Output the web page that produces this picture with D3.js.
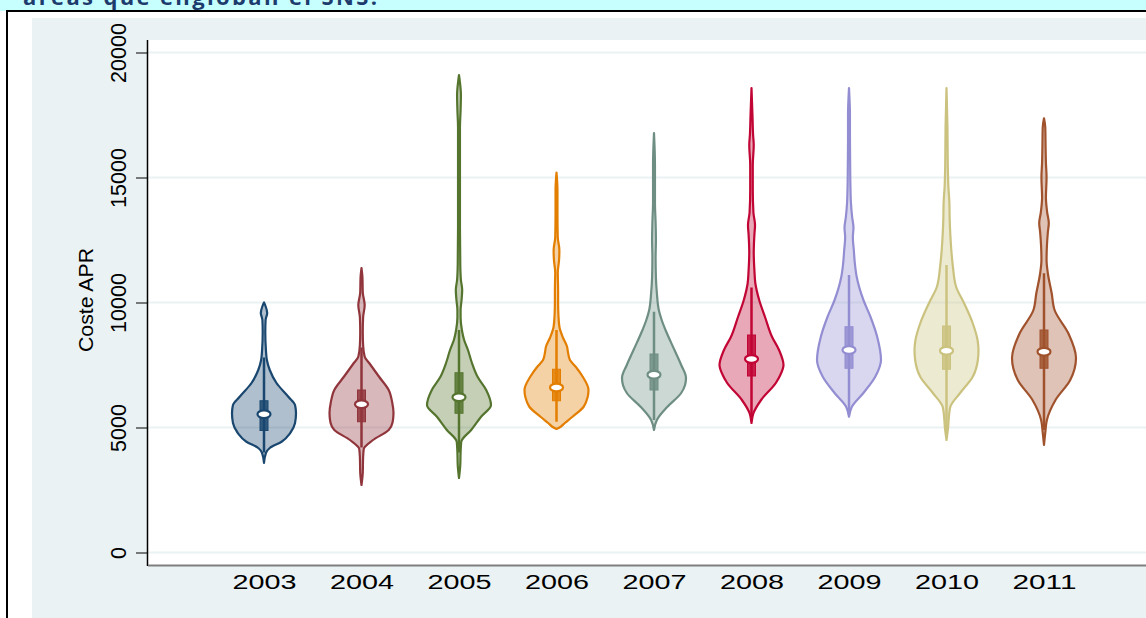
<!DOCTYPE html>
<html>
<head>
<meta charset="utf-8">
<script src="https://cdn.jsdelivr.net/npm/d3@7/dist/d3.min.js"></script>
<style>
  html, body { margin: 0; padding: 0; background: #ffffff; }
  svg { display: block; }
  text { font-family: "Liberation Sans", Arial, sans-serif; }
</style>
</head>
<body>
<svg id="chart" width="1146" height="618"></svg>
<script>
// Years shown on the x axis
const years = ["2003", "2004", "2005", "2006", "2007", "2008", "2009", "2010", "2011"];
const yTicks = [0, 5000, 10000, 15000, 20000];

// Stroke colours (Stata s2color palette)
const colors = ["#1a476f", "#90353b", "#55752f", "#e37e00", "#6e8e84",
                "#c10534", "#938dd2", "#cac27e", "#a0522d"];

// Kernel density profiles: [coste, relative density]
const dens2003 = [[3580,0],[3980,0.06],[4180,0.18],[4430,0.55],[4780,0.82],[5180,0.97],[5570,1.0],[5900,0.97],[6230,0.76],[6780,0.39],[7300,0.18],[7700,0.09],[8100,0.06],[8800,0.04],[9300,0.05],[9580,0.1],[9850,0.05],[10000,0]];
const dens2004 = [[2700,0],[3200,0.04],[3800,0.05],[4140,0.07],[4500,0.36],[4900,0.85],[5200,0.97],[5580,1.0],[6000,0.96],[6500,0.85],[7030,0.55],[7580,0.24],[7830,0.1],[8300,0.05],[8800,0.04],[9400,0.05],[9900,0.1],[10400,0.04],[11000,0.03],[11380,0]];
const dens2005 = [[2980,0],[3500,0.04],[4000,0.05],[4430,0.07],[4900,0.38],[5430,0.69],[5900,1.0],[6500,0.85],[7030,0.58],[7600,0.4],[8100,0.28],[8500,0.16],[8900,0.09],[9400,0.05],[9700,0.05],[10100,0.08],[10500,0.1],[10900,0.06],[11500,0.04],[13000,0.03],[15000,0.03],[17000,0.03],[17700,0.05],[18300,0.06],[18800,0.03],[19100,0]];
const dens2006 = [[4940,0],[4990,0.08],[5180,0.26],[5430,0.5],[5830,0.85],[6200,0.97],[6500,1.0],[7030,0.82],[7430,0.6],[7700,0.42],[8000,0.36],[8230,0.33],[8600,0.2],[9030,0.09],[9500,0.06],[10000,0.05],[10500,0.05],[11200,0.04],[11700,0.08],[12100,0.09],[12600,0.04],[13500,0.03],[14500,0.03],[15200,0]];
const dens2007 = [[4900,0],[5300,0.09],[5830,0.42],[6380,0.85],[6700,0.97],[6980,1.0],[7500,0.85],[8100,0.64],[8900,0.36],[9300,0.24],[9700,0.15],[10370,0.09],[11000,0.06],[11800,0.05],[12500,0.06],[13200,0.05],[14000,0.03],[15500,0.03],[16780,0]];
const dens2008 = [[5180,0],[5570,0.06],[6100,0.3],[6780,0.76],[7100,0.9],[7500,1.0],[8100,0.86],[8630,0.64],[9430,0.42],[10100,0.24],[10770,0.12],[11300,0.09],[12000,0.07],[12700,0.09],[13100,0.11],[13600,0.06],[14500,0.04],[15500,0.04],[16300,0.07],[16700,0.05],[17500,0.03],[18580,0]];
const dens2009 = [[5430,0],[5830,0.09],[6380,0.45],[7030,0.82],[7700,1.0],[8630,0.88],[9430,0.67],[10100,0.45],[11030,0.24],[11600,0.18],[12100,0.15],[12600,0.12],[13000,0.14],[13400,0.1],[14000,0.06],[15000,0.04],[16500,0.03],[17500,0.03],[18580,0]];
const dens2010 = [[4500,0],[5000,0.05],[5500,0.08],[5830,0.12],[6370,0.42],[7030,0.82],[7700,0.98],[8100,1.0],[8500,0.97],[9170,0.82],[9970,0.55],[10630,0.3],[11430,0.2],[12100,0.15],[12700,0.12],[13300,0.1],[14000,0.09],[14600,0.06],[15500,0.04],[17000,0.03],[18580,0]];
const dens2011 = [[4300,0],[4800,0.04],[5300,0.09],[6100,0.36],[6900,0.82],[7780,1.0],[8770,0.76],[9700,0.33],[10370,0.24],[11170,0.12],[11700,0.08],[12230,0.09],[12800,0.12],[13180,0.15],[13600,0.1],[14200,0.06],[15000,0.08],[15600,0.06],[16200,0.05],[17000,0.04],[17370,0]];
const densities = [dens2003, dens2004, dens2005, dens2006, dens2007, dens2008, dens2009, dens2010, dens2011];

// Box summaries per year
const q1      = [4880, 5230, 5570, 6070, 6500, 7060, 7370, 7330, 7370];
const medians = [5530, 5930, 6210, 6600, 7110, 7740, 8100, 8070, 8030];
const q3      = [6070, 6500, 7190, 7330, 7940, 8700, 9030, 9060, 8900];
const lowAdj  = [4000, 4200, 4000, 5230, 5300, 5400, 5600, 4800, 4900];
const highAdj = [7800, 8200, 8900, 8900, 9630, 10600, 11100, 11500, 11170];

const svg = d3.select("#chart");

// Page frame
svg.append("rect").attr("x", 0).attr("y", 0).attr("width", 1146).attr("height", 618).attr("fill", "#ffffff");
svg.append("rect").attr("x", 0).attr("y", 0).attr("width", 1146).attr("height", 11).attr("fill", "#c7ffff");
svg.append("text")
  .attr("x", 23).attr("y", 5)
  .attr("textLength", 354).attr("lengthAdjust", "spacing")
  .style("font-family", "'Open Sans', 'Noto Sans', sans-serif")
  .style("font-weight", "bold").style("font-size", "22px")
  .attr("fill", "#1d3c6d")
  .text("áreas que engloban el SNS.");
svg.append("rect").attr("x", 0).attr("y", 11).attr("width", 1146).attr("height", 7).attr("fill", "#ffffff");
svg.append("line").attr("x1", 6).attr("x2", 1146).attr("y1", 11).attr("y2", 11)
  .attr("stroke", "#000").attr("stroke-width", 2);
svg.append("line").attr("x1", 7).attr("x2", 7).attr("y1", 10).attr("y2", 618)
  .attr("stroke", "#000").attr("stroke-width", 2);

// Graph region and plot region
svg.append("rect").attr("x", 32).attr("y", 18).attr("width", 1114).attr("height", 600).attr("fill", "#eaf2f3");
svg.append("rect").attr("x", 148).attr("y", 40).attr("width", 998).attr("height", 525).attr("fill", "#ffffff");

const y = d3.scaleLinear().domain([0, 20000]).range([552.5, 52.5]);
const x = d3.scalePoint().domain(years).range([264, 1044]);
const w = d3.scaleLinear().domain([0, 1]).range([0, 32]);

// Grid lines
svg.append("g").selectAll("line").data(yTicks).join("line")
  .attr("x1", 148).attr("x2", 1146)
  .attr("y1", d => y(d)).attr("y2", d => y(d))
  .attr("stroke", "#eaf2f3").attr("stroke-width", 2);

// Violins
const violins = svg.append("g");
years.forEach((yr, i) => {
  const cx = x(yr);
  const c = colors[i];
  const g = violins.append("g");
  const area = d3.area()
    .curve(d3.curveMonotoneY)
    .y(d => y(d[0]))
    .x0(d => cx - w(d[1]))
    .x1(d => cx + w(d[1]));
  g.append("path")
    .attr("d", area(densities[i]))
    .attr("fill", c).attr("fill-opacity", 0.35)
    .attr("stroke", c).attr("stroke-width", 2.2)
    .attr("stroke-linejoin", "round");
  g.append("line")
    .attr("x1", cx).attr("x2", cx)
    .attr("y1", y(lowAdj[i])).attr("y2", y(highAdj[i]))
    .attr("stroke", c).attr("stroke-width", 2.5);
  g.append("rect")
    .attr("x", cx - 4).attr("width", 8)
    .attr("y", y(q3[i])).attr("height", y(q1[i]) - y(q3[i]))
    .attr("fill", c).attr("fill-opacity", 0.85)
    .attr("stroke", c).attr("stroke-width", 1);
  g.append("ellipse")
    .attr("cx", cx).attr("cy", y(medians[i]))
    .attr("rx", 6.5).attr("ry", 3.8)
    .attr("fill", "#ffffff").attr("stroke", c).attr("stroke-width", 2.2);
});

// Y axis
const yAxis = svg.append("g").attr("transform", "translate(148,0)")
  .call(d3.axisLeft(y).tickValues(yTicks).tickSize(12).tickFormat(d3.format("d")));
yAxis.select(".domain").remove();
yAxis.selectAll(".tick line").attr("stroke", "#000").attr("stroke-width", 1);
yAxis.selectAll(".tick text")
  .attr("x", 0).attr("y", -22).attr("dy", null)
  .attr("transform", "rotate(-90)")
  .attr("text-anchor", "middle")
  .attr("fill", "#000")
  .style("font-size", "21.5px")
  .style("font-family", "'Liberation Sans', Arial, sans-serif");
svg.append("line").attr("x1", 147.5).attr("x2", 147.5).attr("y1", 40).attr("y2", 566)
  .attr("stroke", "#000").attr("stroke-width", 1.5);

// X axis
const xAxis = svg.append("g").attr("transform", "translate(0,565)")
  .call(d3.axisBottom(x).tickSize(0));
xAxis.select(".domain").remove();
xAxis.selectAll(".tick text")
  .attr("y", 24).attr("dy", null)
  .attr("fill", "#000")
  .attr("textLength", 64).attr("lengthAdjust", "spacingAndGlyphs")
  .style("font-size", "20px")
  .style("font-family", "'Liberation Sans', Arial, sans-serif");
svg.append("line").attr("x1", 148).attr("x2", 1146).attr("y1", 565.5).attr("y2", 565.5)
  .attr("stroke", "#7f7f7f").attr("stroke-width", 2);

// Y axis title
svg.append("text")
  .attr("transform", "translate(93,300) rotate(-90)")
  .attr("text-anchor", "middle")
  .attr("textLength", 104).attr("lengthAdjust", "spacingAndGlyphs")
  .style("font-size", "21px")
  .attr("fill", "#000")
  .text("Coste APR");
</script>
</body>
</html>
